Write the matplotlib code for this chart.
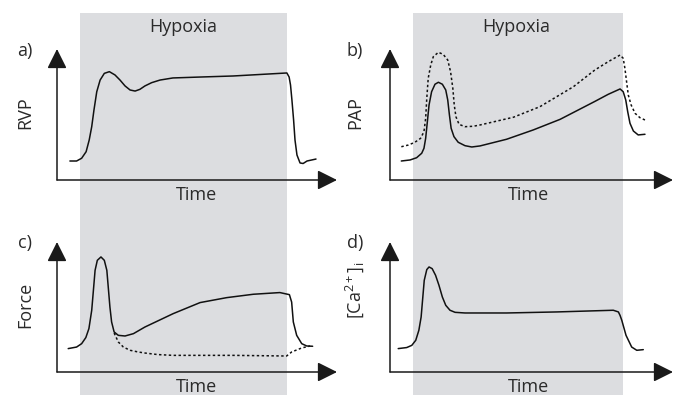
import matplotlib
matplotlib.use("Agg")
import matplotlib.pyplot as plt
from matplotlib.patches import Rectangle
import matplotlib.transforms as mtransforms

plt.rcParams['font.family'] = ['Open Sans', 'DejaVu Sans']
plt.rcParams['mathtext.fontset'] = 'custom'
plt.rcParams['mathtext.rm'] = 'Open Sans'
plt.rcParams['mathtext.it'] = 'Open Sans'

# ---- data (time and value in arbitrary 0-100 units) ----
hypoxia_start = 8.2
hypoxia_end = 82.2

rvp_t = [4.6, 7.0, 8.8, 10.4, 11.5, 12.4, 13.2, 14.2, 15.4, 16.9, 18.7, 20.7, 22.5, 24.3, 26.1, 27.9, 29.6, 31.4, 33.8, 36.8,
         41.4, 51.1, 62.9, 82.1, 82.9, 83.4, 83.9, 84.5, 85.0, 85.7, 86.8, 87.9, 89.3, 92.5]
rvp_v = [14.5, 14.5, 16.6, 21.6, 30.5, 40.7, 53.4, 67.4, 76.3, 81.4, 82.7, 80.2, 76.3, 71.8, 68.7, 67.9, 69.2, 71.8, 74.3, 76.3,
         77.9, 78.6, 79.4, 81.7, 78.6, 72.5, 61.1, 45.8, 30.5, 19.1, 13.0, 12.6, 14.5, 16.0]

pap_t = [4.0, 7.1, 9.4, 11.2, 12.0, 12.6, 13.2, 13.8, 14.7, 15.9, 17.1, 18.5, 19.7, 20.4, 21.0, 21.6, 22.6, 24.1, 26.5, 28.9, 31.8,
         41.2, 50.6, 60.1, 72.4, 77.1, 81.3, 82.4, 83.3, 84.0, 84.8, 86.0, 87.7, 90.1]
pap_v = [14.5, 15.3, 17.0, 20.4, 24.2, 31.8, 44.5, 57.3, 67.4, 73.1, 74.6, 73.1, 68.7, 61.1, 49.6, 39.5, 33.1, 28.8, 26.2, 25.2, 26.0,
         31.1, 38.2, 46.3, 60.0, 65.4, 69.5, 67.4, 61.1, 52.1, 43.3, 37.4, 34.4, 34.9]

pap2_t = [4.0, 6.5, 8.8, 10.8, 12.0, 12.6, 13.0, 13.5, 14.4, 15.3, 17.1, 18.8, 20.4, 21.4, 22.2, 22.7, 23.3, 24.4, 26.5, 29.4, 31.8,
          43.6, 53.0, 64.8, 72.4, 77.1, 81.3, 82.4, 83.0, 83.6, 84.2, 85.2, 86.6, 88.3, 90.1]
pap2_v = [25.4, 26.7, 28.8, 31.8, 36.9, 47.1, 62.4, 77.6, 87.8, 94.1, 97.5, 95.9, 91.6, 82.7, 70.0, 57.3, 48.3, 42.5, 40.7, 41.0, 42.0,
          47.9, 56.0, 71.2, 84.0, 90.3, 95.4, 92.9, 85.3, 75.0, 64.9, 57.3, 50.9, 47.6, 45.8]

force_t = [4.0, 7.0, 8.8, 10.3, 11.4, 12.4, 13.0, 13.6, 14.4, 15.7, 16.9, 17.8, 18.3, 18.9, 19.5, 20.4, 21.9, 24.3, 27.3, 31.4,
           41.5, 51.1, 60.6, 70.1, 79.6, 83.0, 83.8, 84.4, 85.6, 87.4, 89.2, 91.3]
force_v = [18.0, 19.2, 21.8, 26.5, 33.4, 47.5, 62.8, 78.2, 85.9, 88.5, 85.9, 78.2, 65.4, 50.0, 38.5, 30.8, 28.2, 27.7, 29.5, 34.6,
           44.9, 53.4, 57.2, 59.8, 61.1, 59.5, 53.8, 38.5, 28.2, 21.8, 20.0, 19.8]

force2_t = [20.4, 21.9, 23.7, 26.1, 29.0, 31.4, 36.0, 41.5, 63.0, 82.0, 83.8, 87.4, 90.4]
force2_v = [30.0, 23.1, 19.2, 16.7, 15.4, 14.6, 13.4, 12.8, 12.8, 12.3, 15.4, 18.5, 20.0]

ca_t = [2.9, 5.9, 7.7, 9.1, 10.2, 11.0, 11.6, 12.1, 13.0, 13.8, 14.9, 16.1, 17.3, 18.5, 19.7, 21.2, 23.0, 26.5, 30.0,
        41.2, 58.9, 78.9, 80.7, 81.3, 81.9, 83.4, 85.4, 87.2, 89.5]
ca_v = [18.0, 18.8, 20.5, 24.4, 32.1, 42.3, 57.7, 70.5, 78.8, 80.8, 79.5, 74.4, 66.7, 57.7, 51.3, 47.5, 45.9, 45.4, 45.4,
        45.4, 46.2, 47.5, 46.2, 43.5, 39.8, 28.2, 19.2, 16.7, 17.2]

panel_letters = ['a)', 'b)', 'c)', 'd)']
ylabels = ['RVP', 'PAP', 'Force', '[Ca$^{2+}$]$_\\mathrm{i}$']

# ---- figure ----
W, H = 680, 395
fig = plt.figure(figsize=(W / 100, H / 100), dpi=100)
bg = fig.add_axes([0, 0, 1, 1])
bg.set_xlim(0, W)
bg.set_ylim(H, 0)
bg.axis('off')

def px_axes(x0, y_top, x1, y_bot):
    ax = fig.add_axes([x0 / W, 1 - y_bot / H, (x1 - x0) / W, (y_bot - y_top) / H])
    ax.set_xlim(0, 100)
    ax.set_ylim(0, 100)
    ax.axis('off')
    ax.patch.set_alpha(0)
    return ax

ax_a = px_axes(57, 49, 337, 180)
ax_b = px_axes(390, 49, 673, 180)
ax_c = px_axes(57, 242, 337, 372)
ax_d = px_axes(390, 242, 673, 372)

shade = '#dcdde0'
for ax in (ax_a, ax_b):
    tr = mtransforms.blended_transform_factory(ax.transData, fig.transFigure)
    fig.patches.append(Rectangle((hypoxia_start, 0), hypoxia_end - hypoxia_start,
                                 1 - 13 / H, transform=tr, facecolor=shade,
                                 edgecolor='none', zorder=-10))
bg.set_zorder(-5)

axcol = '#1a1a1a'
for ax in (ax_a, ax_b, ax_c, ax_d):
    for xy in [(0, 1.0), (1.0, 0)]:
        ax.annotate('', xy=xy, xytext=(0, 0), xycoords='axes fraction',
                    textcoords='axes fraction',
                    arrowprops=dict(arrowstyle='-|>,head_length=0.8,head_width=0.4',
                                    mutation_scale=15, lw=1.1, color=axcol,
                                    shrinkA=0, shrinkB=0))

lc = '#111111'
lw = 1.1
kw = dict(color=lc, lw=lw, solid_joinstyle='round', solid_capstyle='round')
ax_a.plot(rvp_t, rvp_v, **kw)
ax_b.plot(pap2_t, pap2_v, color=lc, lw=lw, linestyle=(0, (1.6, 1.6)))
ax_b.plot(pap_t, pap_v, **kw)
ax_c.plot(force2_t, force2_v, color=lc, lw=lw, linestyle=(0, (1.6, 1.6)))
ax_c.plot(force_t, force_v, **kw)
ax_d.plot(ca_t, ca_v, **kw)

tc = '#2a2a2a'
fs = 13
bg.text(183, 27, 'Hypoxia', ha='center', va='center', fontsize=fs, color=tc)
bg.text(516, 27, 'Hypoxia', ha='center', va='center', fontsize=fs, color=tc)
for (x, y), s in zip([(196, 195), (529, 195), (196, 387), (529, 387)], ['Time'] * 4):
    bg.text(x, y, s, ha='center', va='center', fontsize=fs, color=tc)
for (x, y), s in zip([(25, 51), (355, 51), (25, 243), (355, 243)], panel_letters):
    bg.text(x, y, s, ha='center', va='center', fontsize=fs, color=tc)
for (x, y), s in zip([(25, 113), (355, 113), (25, 305), (355, 290)], ylabels):
    bg.text(x, y, s, ha='center', va='center', fontsize=fs, color=tc, rotation=90)

fig.savefig('out.png', dpi=100)
